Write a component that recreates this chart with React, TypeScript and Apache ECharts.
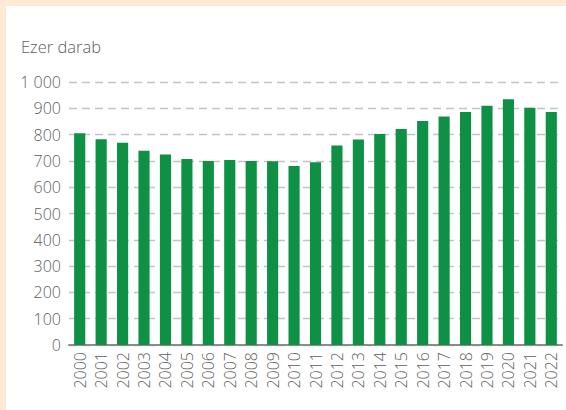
import React, { useEffect, useRef } from "react";
import * as echarts from "echarts";

const years = [
  "2000", "2001", "2002", "2003", "2004", "2005", "2006", "2007", "2008", "2009", "2010", "2011",
  "2012", "2013", "2014", "2015", "2016", "2017", "2018", "2019", "2020", "2021", "2022",
];
const values = [
  805, 782, 769, 739, 724, 707, 700, 703, 700, 699, 681, 695,
  759, 781, 802, 821, 852, 869, 886, 910, 934, 902, 886,
];
const yUnitLabel = "Ezer darab";
const yMin = 0;
const yMax = 1000;
const yStep = 100;

const fmt = (v: number) => String(v).replace(/\B(?=(\d{3})+(?!\d))/g, " ");

export default function App() {
  const ref = useRef<HTMLDivElement>(null);
  useEffect(() => {
    if (!ref.current) return;
    const chart = echarts.init(ref.current, undefined, { renderer: "svg" });
    const textColor = "#5e5e5e";
    const font = "'Open Sans', 'Noto Sans', sans-serif";
    chart.setOption({
      animation: false,
      backgroundColor: "#ffffff",
      textStyle: { fontFamily: font },
      graphic: [
        {
          type: "text",
          left: 15,
          top: 32,
          style: { text: yUnitLabel, fill: textColor, fontSize: 16.5, fontWeight: 300, fontFamily: font },
        },
      ],
      grid: { left: 63, right: 4, top: 76, bottom: 65 },
      xAxis: {
        type: "category",
        data: years,
        axisTick: { show: false },
        axisLine: { lineStyle: { color: "#8c8c8c", width: 2 } },
        axisLabel: { rotate: 90, margin: 7, fontSize: 16, fontWeight: 300, color: textColor, fontFamily: font, interval: 0 },
      },
      yAxis: {
        type: "value",
        min: yMin,
        max: yMax,
        interval: yStep,
        axisLine: { show: false },
        axisTick: { show: false },
        axisLabel: { margin: 8, fontSize: 16, fontWeight: 300, color: textColor, fontFamily: font, formatter: (v: number) => fmt(v) },
        splitLine: { lineStyle: { color: "#c4c4c4", width: 1.3, type: [8, 5] } },
      },
      series: [
        {
          type: "bar",
          data: values,
          barWidth: "52%",
          itemStyle: { color: "#0e9145" },
        },
      ],
    });
    return () => chart.dispose();
  }, []);
  return (
    <div style={{ position: "fixed", left: 0, top: 0, width: 566, height: 410, background: "#fdebd5" }}>
      <div ref={ref} style={{ position: "absolute", left: 6, top: 6, width: 560, height: 404 }} />
    </div>
  );
}
